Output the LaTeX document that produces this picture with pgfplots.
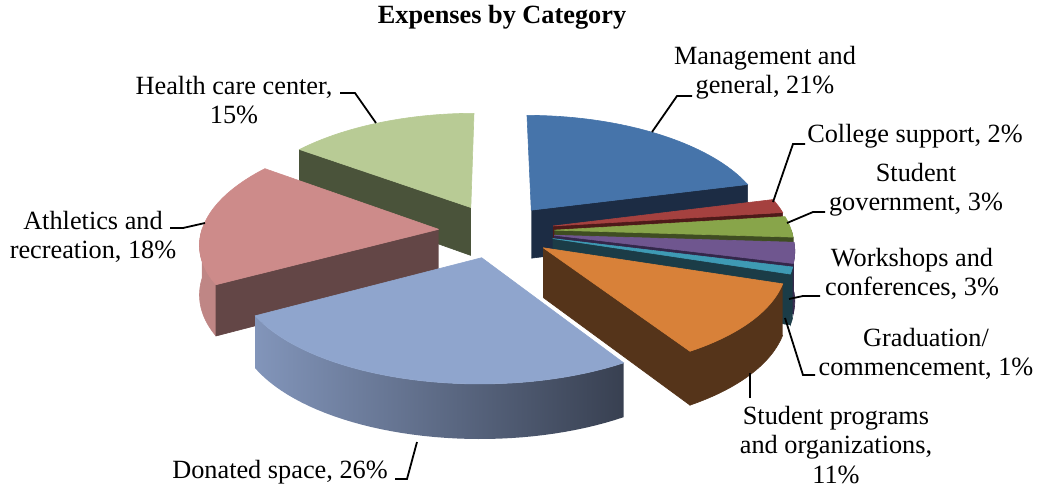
\documentclass[border=0pt]{standalone}
\usepackage{pgfplots}
\pgfplotsset{compat=1.18}
\usepackage{pgfplotstable}
\usepackage{fontspec}
\setmainfont{Liberation Serif}

% Expenses by category (percent), clockwise from 12 o'clock
\pgfplotstableread{
pct
21
2
3
3
1
11
26
18
15
}\expdata

\def\cum{0}
\pgfplotsforeachungrouped \i in {0,...,8}{%
  \pgfplotstablegetelem{\i}{pct}\of\expdata
  \pgfmathsetmacro\sa{\cum*3.6}%
  \pgfmathsetmacro\cum{\cum+\pgfplotsretval}%
  \pgfmathsetmacro\se{\cum*3.6}%
  \pgfmathsetmacro\sm{(\sa+\se)/2}%
  \expandafter\xdef\csname sA\i\endcsname{\sa}%
  \expandafter\xdef\csname sE\i\endcsname{\se}%
  \expandafter\xdef\csname sM\i\endcsname{\sm}%
}
\newcommand\SA[1]{\csname sA#1\endcsname}
\newcommand\SE[1]{\csname sE#1\endcsname}
\newcommand\SM[1]{\csname sM#1\endcsname}

\definecolor{mgT}{HTML}{4674AA}\definecolor{mgW}{HTML}{1C2C44}
\definecolor{csT}{HTML}{A5413F}\definecolor{csW}{HTML}{4E1A19}
\definecolor{sgT}{HTML}{88A54A}\definecolor{sgW}{HTML}{3F4D22}
\definecolor{wsT}{HTML}{6F568F}\definecolor{wsW}{HTML}{33274A}
\definecolor{grT}{HTML}{3E9AB4}\definecolor{grW}{HTML}{1B3C47}
\definecolor{spT}{HTML}{D88139}\definecolor{spW}{HTML}{55341A}
\definecolor{dsT}{HTML}{8FA5CD}\definecolor{dsL}{HTML}{8295BA}\definecolor{dsR}{HTML}{384051}
\definecolor{atT}{HTML}{CD8B8A}\definecolor{atW}{HTML}{634646}\definecolor{atO}{HTML}{BF8685}
\definecolor{hcT}{HTML}{B8CB95}\definecolor{hcW}{HTML}{4A533A}

\tikzset{lbl/.style={font=\fontsize{13.15}{14.6}\selectfont, align=center, inner sep=0pt}}

\newcommand\topface[2]{%
 \addplot[fill=#2, draw=#2, line width=0.3pt, samples at={0,1,...,42}, variable=\k]
 ({sx(\SA{#1}+(\k-1)/40*(\SE{#1}-\SA{#1}),(\k>0.5)*(\k<41.5),\SM{#1})},
  {sy(\SA{#1}+(\k-1)/40*(\SE{#1}-\SA{#1}),(\k>0.5)*(\k<41.5),\SM{#1},0)});
}
\newcommand\radwall[3]{%
 \addplot[fill=#3, draw=#3, line width=0.3pt, samples at={0,1,2,3}, variable=\k]
 ({sx(#2,(\k>0.5)*(\k<2.5),\SM{#1})},{sy(#2,(\k>0.5)*(\k<2.5),\SM{#1},49*(\k>1.5))});
}
\newcommand\outwall[4]{%
 \addplot[#4, line width=0.3pt, samples at={0,1,...,81}, variable=\k]
 ({sx(wa(\k,#2,#3),1,\SM{#1})},{sy(wa(\k,#2,#3),1,\SM{#1},49*(\k>40.5))});
}

\begin{document}
\begin{tikzpicture}
\begin{axis}[
  scale only axis, width=520pt, height=244pt,
  xmin=0, xmax=1040, ymin=0, ymax=488, y dir=reverse,
  hide axis, clip=false,
  declare function={
    sx(\pA,\pR,\pM)=496.5+237*(0.245*sin(\pM)+\pR*sin(\pA))*(1-0.12*(0.245*cos(\pM)+\pR*cos(\pA)));
    sy(\pA,\pR,\pM,\pZ)=231+(-110*(0.245*cos(\pM)+\pR*cos(\pA))+\pZ)*(1-0.1*(0.245*cos(\pM)+\pR*cos(\pA)));
    wa(\pT,\pP,\pQ)=(\pT<40.5)*(\pP+\pT/40*(\pQ-\pP))+(\pT>40.5)*(\pQ-(\pT-41)/40*(\pQ-\pP));
  },
]
% Health care center
\radwall{8}{\SA{8}}{hcW}
\topface{8}{hcT}
% Management and general
\radwall{0}{\SE{0}}{mgW}
\topface{0}{mgT}
% College support
\radwall{1}{\SE{1}}{csW}
\topface{1}{csT}
% Student government
\outwall{2}{90}{\SE{2}}{fill=sgW, draw=sgW}
\radwall{2}{\SE{2}}{sgW}
\topface{2}{sgT}
% Workshops and conferences
\outwall{3}{\SA{3}}{\SE{3}}{fill=wsW, draw=wsW}
\radwall{3}{\SE{3}}{wsW}
\topface{3}{wsT}
% Graduation
\outwall{4}{\SA{4}}{\SE{4}}{fill=grW, draw=grW}
\radwall{4}{\SE{4}}{grW}
\topface{4}{grT}
% Athletics and recreation
\outwall{7}{\SA{7}}{270}{fill=atO, draw=atO}
\radwall{7}{\SA{7}}{atW}
\topface{7}{atT}
% Student programs
\outwall{5}{\SA{5}}{\SE{5}}{fill=spW, draw=spW}
\radwall{5}{\SE{5}}{spW}
\topface{5}{spT}
% Donated space
\outwall{6}{\SA{6}}{\SE{6}}{shade, left color=dsL, right color=dsR, draw=none}
\topface{6}{dsT}

% leader lines
\addplot[black, line width=0.9pt] coordinates {(340,93) (355,93) (376,123)};
\addplot[black, line width=0.9pt] coordinates {(170,228) (183,228) (205,223)};
\addplot[black, line width=0.9pt] coordinates {(692,96) (677,96) (652,132)};
\addplot[black, line width=0.9pt] coordinates {(805,144) (793,144) (773,202)};
\addplot[black, line width=0.9pt] coordinates {(825,212) (813,212) (787,223)};
\addplot[black, line width=0.9pt] coordinates {(820,296) (803,296) (789,299)};
\addplot[black, line width=0.9pt] coordinates {(815,375) (803,375) (785,318)};
\addplot[black, line width=0.9pt] coordinates {(750,398) (750,373)};
\addplot[black, line width=0.9pt] coordinates {(395,479) (407,479) (417,442)};

% labels
\node[lbl, font=\fontsize{13.15}{14.6}\selectfont\bfseries] at (axis cs:502,17) {Expenses by Category};
\node[lbl] at (axis cs:234,100) {Health care center,\\15\%};
\node[lbl] at (axis cs:93,237) {Athletics and\\recreation, 18\%};
\node[lbl] at (axis cs:765,73) {Management and\\general, 21\%};
\node[lbl] at (axis cs:915,136) {College support, 2\%};
\node[lbl] at (axis cs:916,190) {Student\\government, 3\%};
\node[lbl] at (axis cs:912,274) {Workshops and\\conferences, 3\%};
\node[lbl] at (axis cs:926,354) {Graduation/\\commencement, 1\%};
\node[lbl] at (axis cs:836,445) {Student programs\\and organizations,\\11\%};
\node[lbl] at (axis cs:280,472) {Donated space, 26\%};
\end{axis}
\pgfresetboundingbox
\path[use as bounding box] (current axis.south west) rectangle (current axis.north east);
\end{tikzpicture}
\end{document}
